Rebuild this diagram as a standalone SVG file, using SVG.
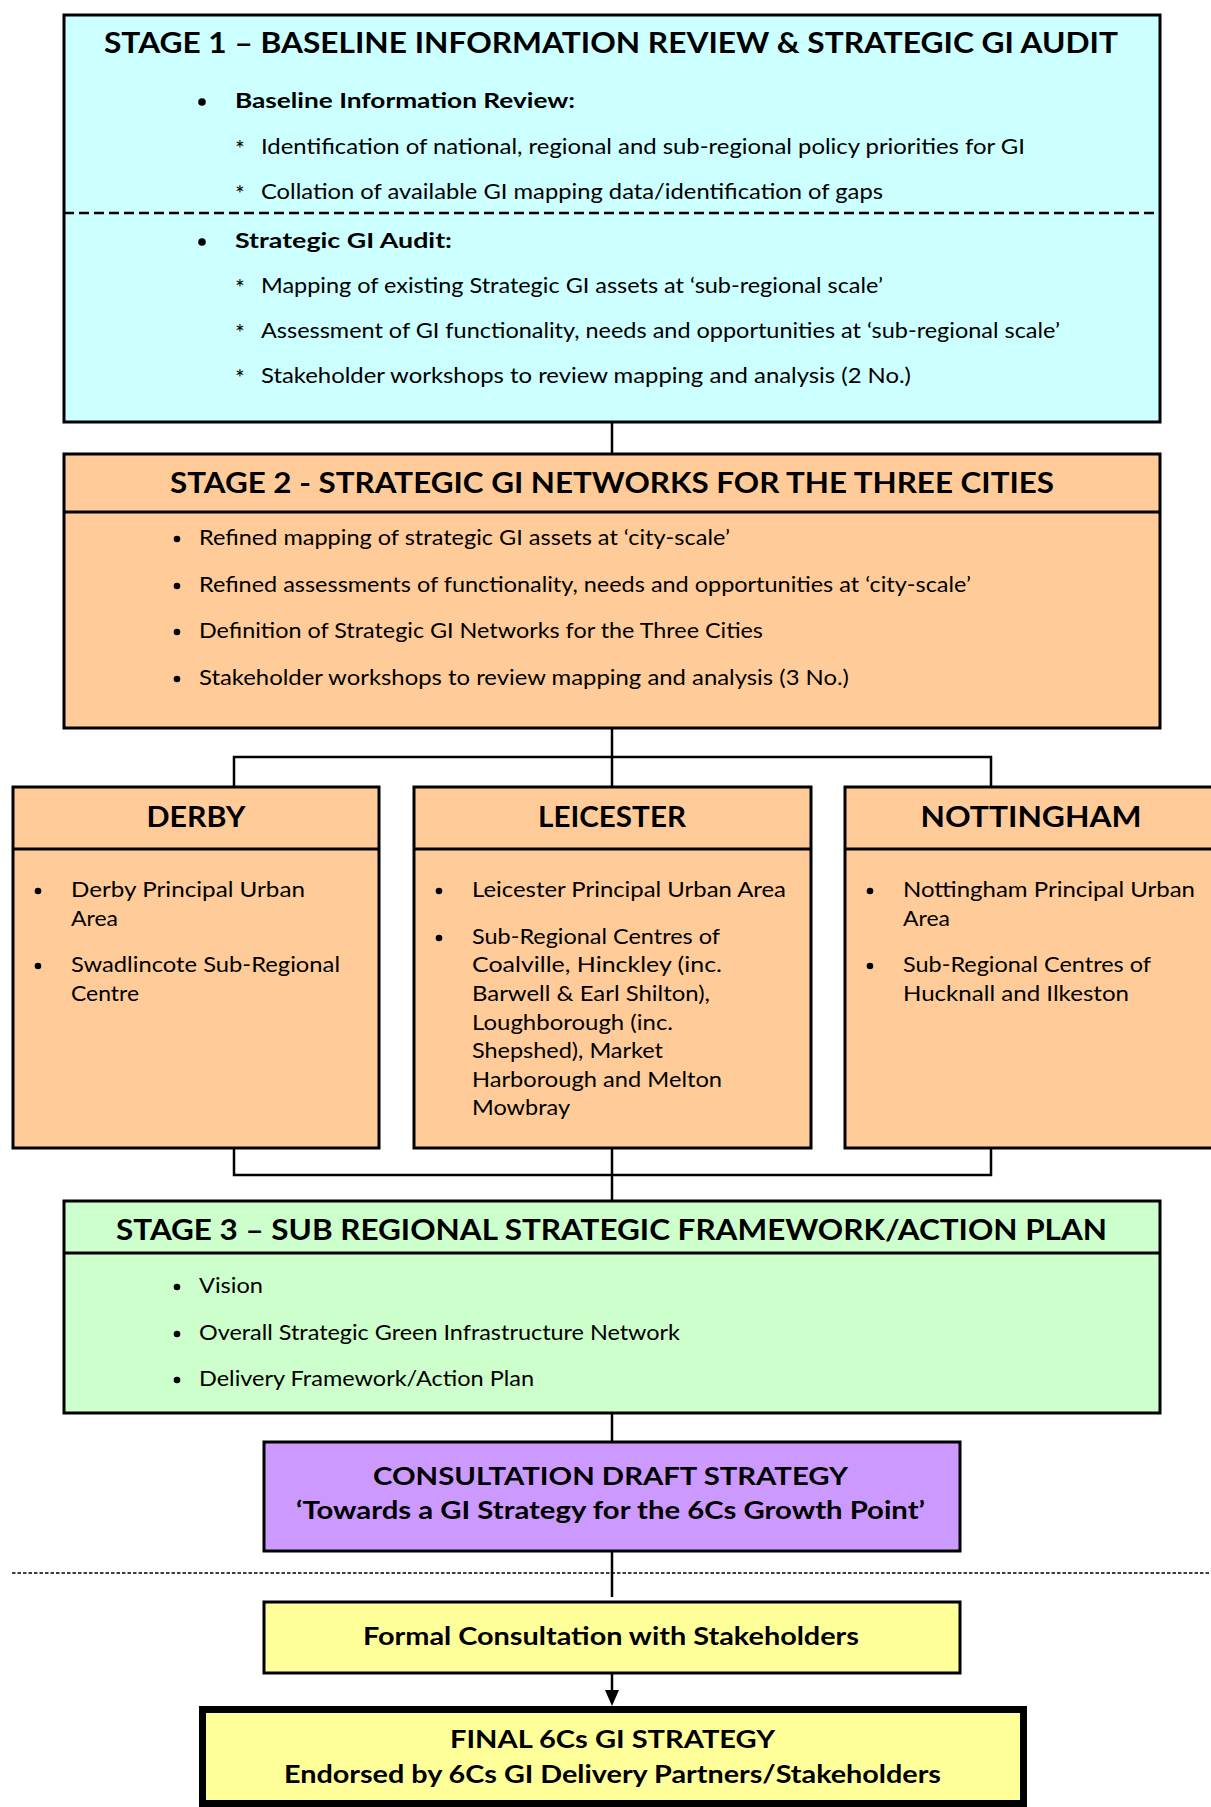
<svg xmlns="http://www.w3.org/2000/svg" width="1211" height="1807" viewBox="0 0 1211 1807">
<style>
text{font-family:Lato,"Liberation Sans","DejaVu Sans",sans-serif;fill:#000}
.t{font-size:28px;font-weight:bold}
.ct{font-size:29px;font-weight:bold;text-anchor:middle}
.b{font-size:20.5px}
.ast{font-size:23px}
.bb{font-size:20.5px;font-weight:bold}
.m{font-size:24.5px;font-weight:bold}
.box{stroke:#000;stroke-width:3}
.s1{fill:#CCFFFF}.s2{fill:#FFCC99}.s3{fill:#CCFFCC}.pu{fill:#CC99FF}.ye{fill:#FFFF99}
.div{stroke:#000;stroke-width:3}
.con{stroke:#000;stroke-width:2.5;fill:none}
.dot{fill:#000}
</style>

<g id="connectors">
<line class="con" x1="612" y1="422" x2="612" y2="454"/>
<line class="con" x1="612" y1="728" x2="612" y2="787"/>
<polyline class="con" points="234,787 234,757 991,757 991,787"/>
<polyline class="con" points="234,1148 234,1175 991,1175 991,1148"/>
<line class="con" x1="612" y1="1148" x2="612" y2="1201"/>
<line class="con" x1="612" y1="1413" x2="612" y2="1442"/>
<line class="con" x1="612" y1="1551" x2="612" y2="1597"/>
<path class="con" d="M612,1673 V1690"/>
<path d="M605,1690 L619,1690 L612,1706 Z" fill="#000"/>
<line x1="12" y1="1573" x2="1211" y2="1573" stroke="#000" stroke-width="1.5" stroke-dasharray="3.5,2"/>
</g>

<g id="stage1">
<rect class="box s1" x="64" y="15" width="1096" height="407"/>
<line x1="64" y1="213" x2="1160" y2="213" stroke="#000" stroke-width="2.5" stroke-dasharray="10,5"/>
<text class="t" x="104" y="53" textLength="1014" lengthAdjust="spacingAndGlyphs">STAGE 1 – BASELINE INFORMATION REVIEW &amp; STRATEGIC GI AUDIT</text>
<circle class="dot" cx="202" cy="102" r="3.8"/>
<text class="bb" x="235" y="108" textLength="340" lengthAdjust="spacingAndGlyphs">Baseline Information Review:</text>
<text class="ast" x="235" y="157">*</text>
<text class="b" x="261" y="154" textLength="764" lengthAdjust="spacingAndGlyphs">Identification of national, regional and sub-regional policy priorities for GI</text>
<text class="ast" x="235" y="202">*</text>
<text class="b" x="261" y="199" textLength="622" lengthAdjust="spacingAndGlyphs">Collation of available GI mapping data/identification of gaps</text>
<circle class="dot" cx="202" cy="242" r="3.8"/>
<text class="bb" x="235" y="248" textLength="217" lengthAdjust="spacingAndGlyphs">Strategic GI Audit:</text>
<text class="ast" x="235" y="296">*</text>
<text class="b" x="261" y="293" textLength="622" lengthAdjust="spacingAndGlyphs">Mapping of existing Strategic GI assets at ‘sub-regional scale’</text>
<text class="ast" x="235" y="341">*</text>
<text class="b" x="261" y="338" textLength="799" lengthAdjust="spacingAndGlyphs">Assessment of GI functionality, needs and opportunities at ‘sub-regional scale’</text>
<text class="ast" x="235" y="386">*</text>
<text class="b" x="261" y="383" textLength="650" lengthAdjust="spacingAndGlyphs">Stakeholder workshops to review mapping and analysis (2 No.)</text>
</g>

<g id="stage2">
<rect class="box s2" x="64" y="454" width="1096" height="274"/>
<line class="div" x1="64" y1="512" x2="1160" y2="512"/>
<text class="t" x="170" y="493" textLength="884" lengthAdjust="spacingAndGlyphs">STAGE 2 - STRATEGIC GI NETWORKS FOR THE THREE CITIES</text>
<circle class="dot" cx="177" cy="539" r="3.3"/>
<text class="b" x="199" y="545" textLength="531" lengthAdjust="spacingAndGlyphs">Refined mapping of strategic GI assets at ‘city-scale’</text>
<circle class="dot" cx="177" cy="586" r="3.3"/>
<text class="b" x="199" y="592" textLength="772" lengthAdjust="spacingAndGlyphs">Refined assessments of functionality, needs and opportunities at ‘city-scale’</text>
<circle class="dot" cx="177" cy="632" r="3.3"/>
<text class="b" x="199" y="638" textLength="564" lengthAdjust="spacingAndGlyphs">Definition of Strategic GI Networks for the Three Cities</text>
<circle class="dot" cx="177" cy="679" r="3.3"/>
<text class="b" x="199" y="685" textLength="650" lengthAdjust="spacingAndGlyphs">Stakeholder workshops to review mapping and analysis (3 No.)</text>
</g>

<g id="derby">
<rect class="box s2" x="13" y="787" width="366" height="361"/>
<line class="div" x1="13" y1="849" x2="379" y2="849"/>
<text class="ct" x="196" y="827" textLength="99" lengthAdjust="spacingAndGlyphs">DERBY</text>
<circle class="dot" cx="38" cy="891" r="3.3"/>
<text class="b" x="71" y="897" textLength="234" lengthAdjust="spacingAndGlyphs">Derby Principal Urban</text>
<text class="b" x="71" y="926" textLength="47" lengthAdjust="spacingAndGlyphs">Area</text>
<circle class="dot" cx="38" cy="966" r="3.3"/>
<text class="b" x="71" y="972" textLength="269" lengthAdjust="spacingAndGlyphs">Swadlincote Sub-Regional</text>
<text class="b" x="71" y="1001" textLength="68" lengthAdjust="spacingAndGlyphs">Centre</text>
</g>

<g id="leicester">
<rect class="box s2" x="414" y="787" width="397" height="361"/>
<line class="div" x1="414" y1="849" x2="811" y2="849"/>
<text class="ct" x="612" y="827" textLength="148" lengthAdjust="spacingAndGlyphs">LEICESTER</text>
<circle class="dot" cx="439" cy="891" r="3.3"/>
<text class="b" x="472" y="897" textLength="314" lengthAdjust="spacingAndGlyphs">Leicester Principal Urban Area</text>
<circle class="dot" cx="439" cy="938" r="3.3"/>
<text class="b" x="472" y="944" textLength="248" lengthAdjust="spacingAndGlyphs">Sub-Regional Centres of</text>
<text class="b" x="472" y="972" textLength="250" lengthAdjust="spacingAndGlyphs">Coalville, Hinckley (inc.</text>
<text class="b" x="472" y="1001" textLength="238" lengthAdjust="spacingAndGlyphs">Barwell &amp; Earl Shilton),</text>
<text class="b" x="472" y="1030" textLength="201" lengthAdjust="spacingAndGlyphs">Loughborough (inc.</text>
<text class="b" x="472" y="1058" textLength="191" lengthAdjust="spacingAndGlyphs">Shepshed), Market</text>
<text class="b" x="472" y="1087" textLength="250" lengthAdjust="spacingAndGlyphs">Harborough and Melton</text>
<text class="b" x="472" y="1115" textLength="98" lengthAdjust="spacingAndGlyphs">Mowbray</text>
</g>

<g id="nottingham">
<rect class="box s2" x="845" y="787" width="375" height="361"/>
<line class="div" x1="845" y1="849" x2="1220" y2="849"/>
<text class="ct" x="1031" y="827" textLength="221" lengthAdjust="spacingAndGlyphs">NOTTINGHAM</text>
<circle class="dot" cx="870" cy="891" r="3.3"/>
<text class="b" x="903" y="897" textLength="292" lengthAdjust="spacingAndGlyphs">Nottingham Principal Urban</text>
<text class="b" x="903" y="926" textLength="47" lengthAdjust="spacingAndGlyphs">Area</text>
<circle class="dot" cx="870" cy="966" r="3.3"/>
<text class="b" x="903" y="972" textLength="248" lengthAdjust="spacingAndGlyphs">Sub-Regional Centres of</text>
<text class="b" x="903" y="1001" textLength="226" lengthAdjust="spacingAndGlyphs">Hucknall and Ilkeston</text>
</g>

<g id="stage3">
<rect class="box s3" x="64" y="1201" width="1096" height="212"/>
<line class="div" x1="64" y1="1253" x2="1160" y2="1253"/>
<text class="t" x="116" y="1240" textLength="991" lengthAdjust="spacingAndGlyphs">STAGE 3 – SUB REGIONAL STRATEGIC FRAMEWORK/ACTION PLAN</text>
<circle class="dot" cx="177" cy="1287" r="3.3"/>
<text class="b" x="199" y="1293" textLength="64" lengthAdjust="spacingAndGlyphs">Vision</text>
<circle class="dot" cx="177" cy="1334" r="3.3"/>
<text class="b" x="199" y="1340" textLength="481" lengthAdjust="spacingAndGlyphs">Overall Strategic Green Infrastructure Network</text>
<circle class="dot" cx="177" cy="1380" r="3.3"/>
<text class="b" x="199" y="1386" textLength="335" lengthAdjust="spacingAndGlyphs">Delivery Framework/Action Plan</text>
</g>

<g id="draft">
<rect class="box pu" x="264" y="1442" width="696" height="109"/>
<text class="m" x="373" y="1485" textLength="475" lengthAdjust="spacingAndGlyphs">CONSULTATION DRAFT STRATEGY</text>
<text class="m" x="296" y="1519" textLength="629" lengthAdjust="spacingAndGlyphs">‘Towards a GI Strategy for the 6Cs Growth Point’</text>
</g>

<g id="formal">
<rect class="box ye" x="264" y="1602" width="696" height="71"/>
<text class="m" x="363" y="1645" textLength="496" lengthAdjust="spacingAndGlyphs">Formal Consultation with Stakeholders</text>
</g>

<g id="final">
<rect x="202.5" y="1709.5" width="821" height="94" fill="#FFFF99" stroke="#000" stroke-width="7"/>
<text class="m" x="450" y="1748" textLength="325" lengthAdjust="spacingAndGlyphs">FINAL 6Cs GI STRATEGY</text>
<text class="m" x="284" y="1783" textLength="657" lengthAdjust="spacingAndGlyphs">Endorsed by 6Cs GI Delivery Partners/Stakeholders</text>
</g>
</svg>
